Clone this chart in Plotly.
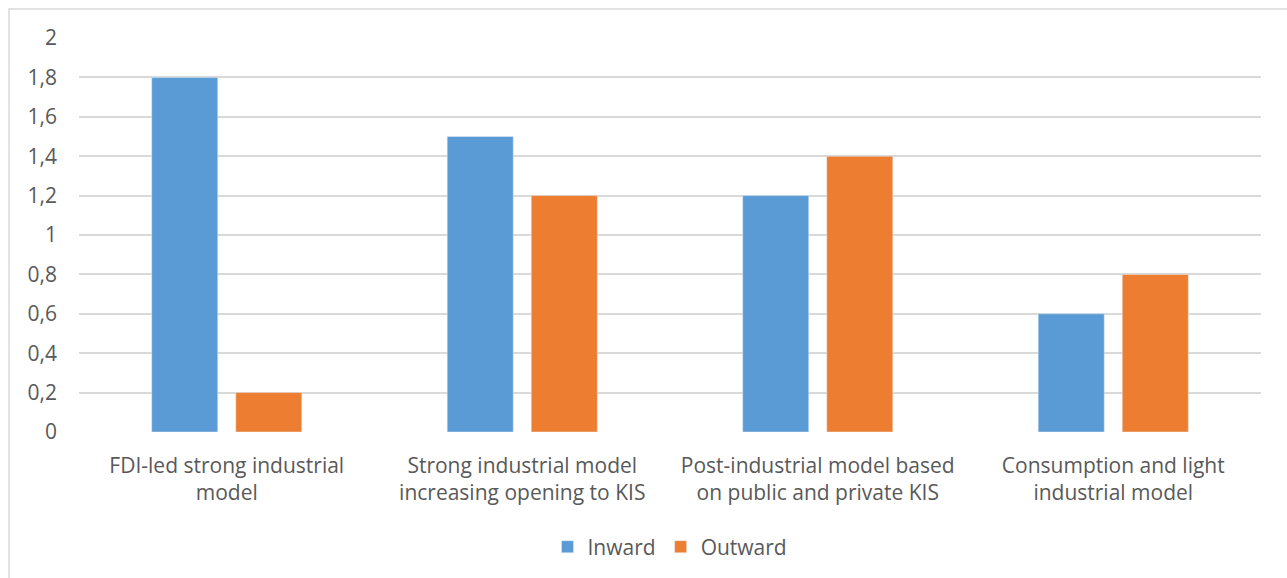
import plotly.graph_objects as go

categories = ["FDI-led strong industrial<br>model",
              "Strong industrial model<br>increasing opening to KIS",
              "Post-industrial model based<br>on public and private KIS",
              "Consumption and light<br>industrial model"]
inward = [1.8, 1.5, 1.2, 0.6]
outward = [0.2, 1.2, 1.4, 0.8]
y_ticks = [0, 0.2, 0.4, 0.6, 0.8, 1, 1.2, 1.4, 1.6, 1.8, 2]

W, H = 1287, 578
L, R, T, B = 79, 26, 38, 146
pw, ph = W - L - R, H - T - B

font = dict(family="'Open Sans', sans-serif", size=21, color="#595959")

fig = go.Figure()
fig.add_trace(go.Bar(name="Inward", x=categories, y=inward, marker_color="#5B9BD5"))
fig.add_trace(go.Bar(name="Outward", x=categories, y=outward, marker_color="#ED7D31"))

fig.update_layout(
    width=W, height=H,
    margin=dict(l=L, r=R, t=T, b=B, autoexpand=False),
    paper_bgcolor="white", plot_bgcolor="white",
    separators=",.",
    font=font,
    barmode="group", bargap=0.431, bargroupgap=0.214,
    showlegend=True,
    legend=dict(orientation="h", x=0.5, xanchor="center", y=-0.24, yanchor="top",
                font=font, itemwidth=30, traceorder="normal"),
    xaxis=dict(showgrid=False, showline=False, ticks="", tickfont=font,
               ticklabelstandoff=19, automargin=False),
    yaxis=dict(range=[0, 2], tickvals=y_ticks, showgrid=True, gridcolor="#D9D9D9",
               gridwidth=1.5, zeroline=False, showline=False, ticks="",
               tickfont=dict(family=font["family"], size=21, color="#595959"),
               ticklabelstandoff=21, automargin=False),
    shapes=[dict(type="rect", xref="paper", yref="paper",
                 x0=(9 - L) / pw, x1=(W + 5 - L) / pw,
                 y0=(H - B - (H + 5)) / ph, y1=(H - B - 9) / ph,
                 line=dict(color="#D9D9D9", width=1.5), fillcolor="rgba(0,0,0,0)",
                 layer="below")],
)

fig.write_html("out.html")
